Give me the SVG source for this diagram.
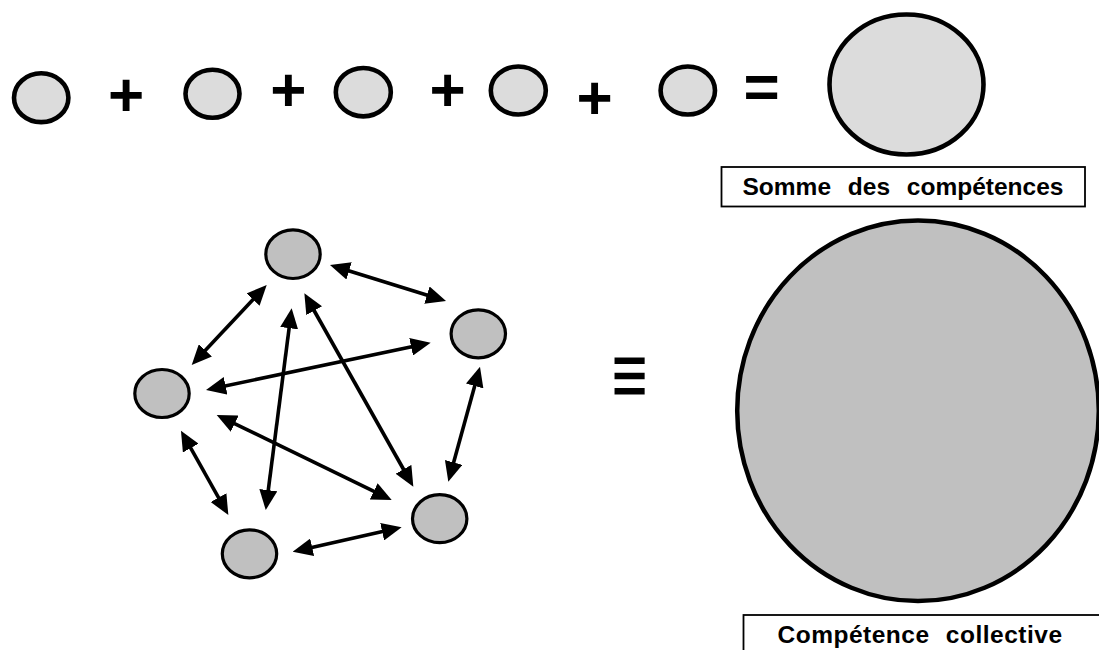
<svg xmlns="http://www.w3.org/2000/svg" width="1099" height="650" viewBox="0 0 1099 650">
<style>
.small{fill:#dcdcdc;stroke:#000;stroke-width:4.6}
.node{fill:#c0c0c0;stroke:#000;stroke-width:3.2}
.op{font-family:"Liberation Sans",Arial,sans-serif;font-weight:bold;font-size:62px;fill:#000;text-anchor:middle}
.lbl{font-family:"Liberation Sans",Arial,sans-serif;font-weight:bold;font-size:24.5px;fill:#000;text-anchor:middle}
.box{fill:#fff;stroke:#000;stroke-width:1.8}
.link{stroke:#000;stroke-width:3.6;fill:none;marker-start:url(#ah);marker-end:url(#ah)}
</style>
<defs>
<marker id="ah" markerUnits="userSpaceOnUse" viewBox="0 0 20 18" markerWidth="20" markerHeight="18" refX="14" refY="9" orient="auto-start-reverse">
<path d="M0,0 L20,9 L0,18 z" fill="#000"/>
</marker>
</defs>
<rect width="1099" height="650" fill="#fff"/>

<g id="sum-row">
<ellipse id="s1" class="small" cx="41.2" cy="97.7" rx="27.2" ry="24.4"/>
<text class="op" x="126" y="115.5">+</text>
<ellipse id="s2" class="small" cx="212.5" cy="93.8" rx="27" ry="24"/>
<text class="op" x="288.3" y="110.5">+</text>
<ellipse id="s3" class="small" cx="363.3" cy="92.2" rx="27.5" ry="24.2"/>
<text class="op" x="447.5" y="110.5">+</text>
<ellipse id="s4" class="small" cx="518.3" cy="90.5" rx="27.5" ry="24"/>
<text class="op" x="594.5" y="119.3">+</text>
<ellipse id="s5" class="small" cx="687.8" cy="90.5" rx="27.2" ry="24"/>
<text class="op" x="761.7" y="107.7">=</text>
</g>

<g id="sum-result">
<ellipse class="small" cx="906.5" cy="84.5" rx="77" ry="70"/>
</g>
<g id="label-somme">
<rect class="box" x="721.5" y="167" width="363.5" height="39.5"/>
<text class="lbl" x="903" y="194.5" style="word-spacing:10px">Somme des compétences</text>
</g>

<g id="connectors">
<line class="link" x1="335.7" y1="266.8" x2="440.3" y2="299.2"/>
<line class="link" x1="262.6" y1="289.4" x2="195.8" y2="360.6"/>
<line class="link" x1="290.9" y1="314.3" x2="266.5" y2="504.1"/>
<line class="link" x1="307.3" y1="298.5" x2="410.4" y2="481.5"/>
<line class="link" x1="211.9" y1="388.8" x2="424.8" y2="343.9"/>
<line class="link" x1="222.1" y1="417.6" x2="386.3" y2="497.4"/>
<line class="link" x1="183.9" y1="435.9" x2="225.4" y2="509.8"/>
<line class="link" x1="298.5" y1="550.4" x2="395.8" y2="528.6"/>
<line class="link" x1="478.4" y1="372.5" x2="449.9" y2="475.9"/>
</g>

<g id="n1"><ellipse class="node" cx="293" cy="254.2" rx="27.2" ry="24.3"/></g>
<g id="n2"><ellipse class="node" cx="478.3" cy="333.8" rx="27.2" ry="24"/></g>
<g id="n3"><ellipse class="node" cx="162" cy="393.5" rx="27.2" ry="24"/></g>
<g id="n4"><ellipse class="node" cx="249.5" cy="553.8" rx="27.2" ry="24"/></g>
<g id="n5"><ellipse class="node" cx="439.7" cy="518.7" rx="27.2" ry="24"/></g>

<g id="equiv">
<text x="629.5" y="402" transform="translate(0,395) scale(1,1.42) translate(0,-395)" style="font-family:'Liberation Sans',Arial,sans-serif;font-size:62px;text-anchor:middle;fill:#000">≡</text>
</g>

<g id="collective">
<ellipse cx="918" cy="410.8" rx="180.8" ry="190.3" style="fill:#c0c0c0;stroke:#000;stroke-width:4.5"/>
</g>
<g id="label-collective">
<rect class="box" x="743.5" y="615" width="370" height="50"/>
<text class="lbl" x="920" y="642.7" style="letter-spacing:0.5px;word-spacing:9px">Compétence collective</text>
</g>
</svg>
